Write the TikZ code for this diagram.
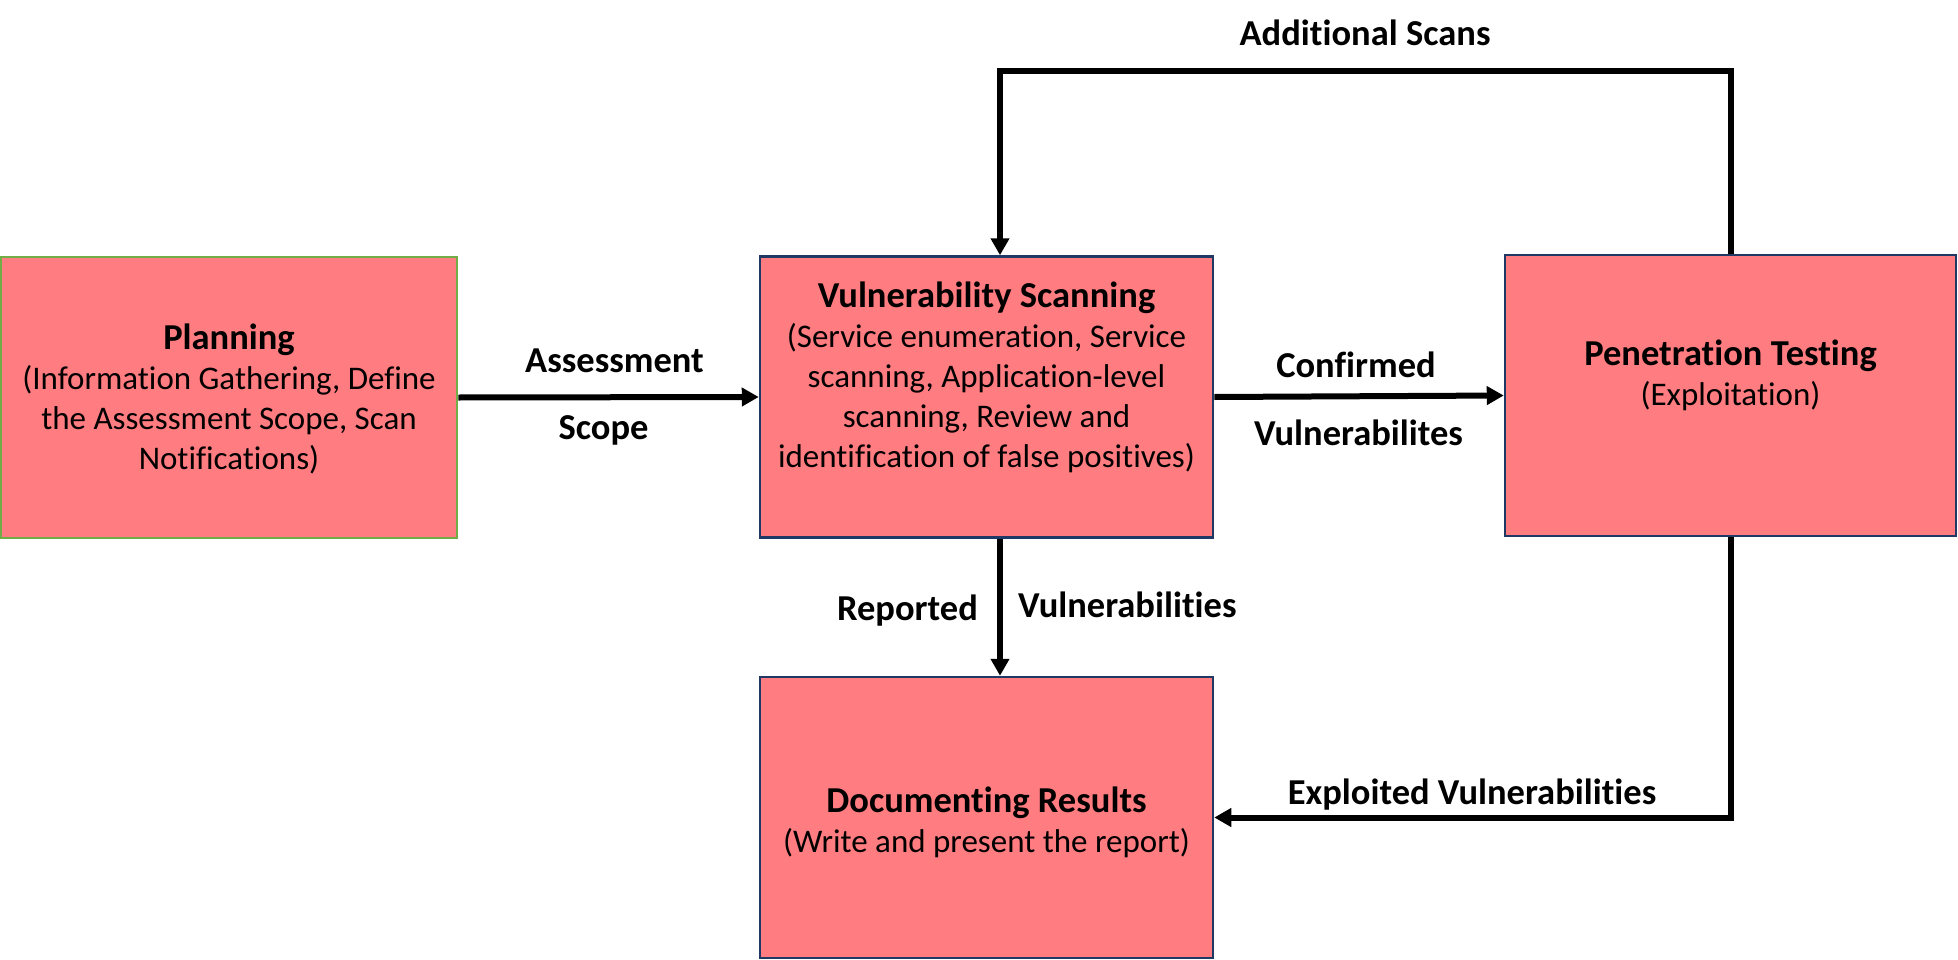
\documentclass[tikz,border=0pt]{standalone}
\usepackage{fontspec}
\setmainfont{Carlito}[Ligatures={NoCommon}]
\usetikzlibrary{arrows.meta,calc}
\definecolor{boxfill}{HTML}{FF7C80}
\definecolor{plangreen}{HTML}{70AD47}
\definecolor{navy}{HTML}{1F3864}
\begin{document}
\begin{tikzpicture}[x=1pt,y=-1pt,
  box/.style={rectangle, draw=navy, line width=2.5pt, fill=boxfill, inner sep=0pt,
              minimum width=453pt, minimum height=281pt},
  boxtext/.style={inner sep=0pt, align=center, anchor=north,
              font=\fontsize{33}{40}\selectfont},
  lbl/.style={inner sep=0pt, anchor=base, font=\bfseries\fontsize{36.5}{40}\selectfont},
  arr/.style={line width=6pt, -{Triangle[length=17pt,width=18pt]}}]
\useasboundingbox (0,0) rectangle (1958,960);

% boxes
\node[box, draw=plangreen, minimum width=456pt] (plan) at (229,397.5) {};
\node[box] (vuln) at (986.5,397) {};
\node[box, minimum width=451pt] (pen) at (1730.5,395.5) {};
\node[box] (doc) at (986.5,817.5) {};

% box texts
\node[boxtext] (plan-t) at (229,324) {{\bfseries\fontsize{36.5}{40}\selectfont Planning}\\
  (Information Gathering, Define\\ the Assessment Scope, Scan\\ Notifications)};
\node[boxtext] (vuln-t) at (986.5,282) {{\bfseries\fontsize{36.5}{40}\selectfont Vulnerability Scanning}\\
  (Service enumeration, Service\\ scanning, Application-level\\ scanning, Review and\\
  identification of false positives)};
\node[boxtext] (pen-t) at (1730.5,340) {{\bfseries\fontsize{36.5}{40}\selectfont Penetration Testing}\\
  (Exploitation)};
\node[boxtext] (doc-t) at (986.5,787) {{\bfseries\fontsize{36.5}{40}\selectfont Documenting Results}\\
  (Write and present the report)};

% connectors
\coordinate (loop) at (1000,71);
\draw[arr] (plan.east) -- (vuln.west);
\draw[arr] (vuln.east) -- (pen.west);
\draw[arr] (vuln.south -| loop) -- (doc.north -| loop);
\draw[arr] (pen.south) |- (doc.east);
\draw[arr] (pen.north) |- (loop) -- (vuln.north -| loop);

% connector labels
\node[lbl] (l-as) at (614.5,372) {Assessment};
\node[lbl] (l-sc) at (603.5,439) {Scope};
\node[lbl] (l-co) at (1356,377) {Confirmed};
\node[lbl] (l-vu) at (1358.5,445) {Vulnerabilites};
\node[lbl, anchor=base east] (l-re) at (978,620) {Reported};
\node[lbl, anchor=base west] (l-vr) at (1018,617) {Vulnerabilities};
\node[lbl] (l-ex) at (1472,804) {Exploited Vulnerabilities};
\node[lbl] (l-ad) at (1365,46) {Additional Scans};
\end{tikzpicture}
\end{document}
